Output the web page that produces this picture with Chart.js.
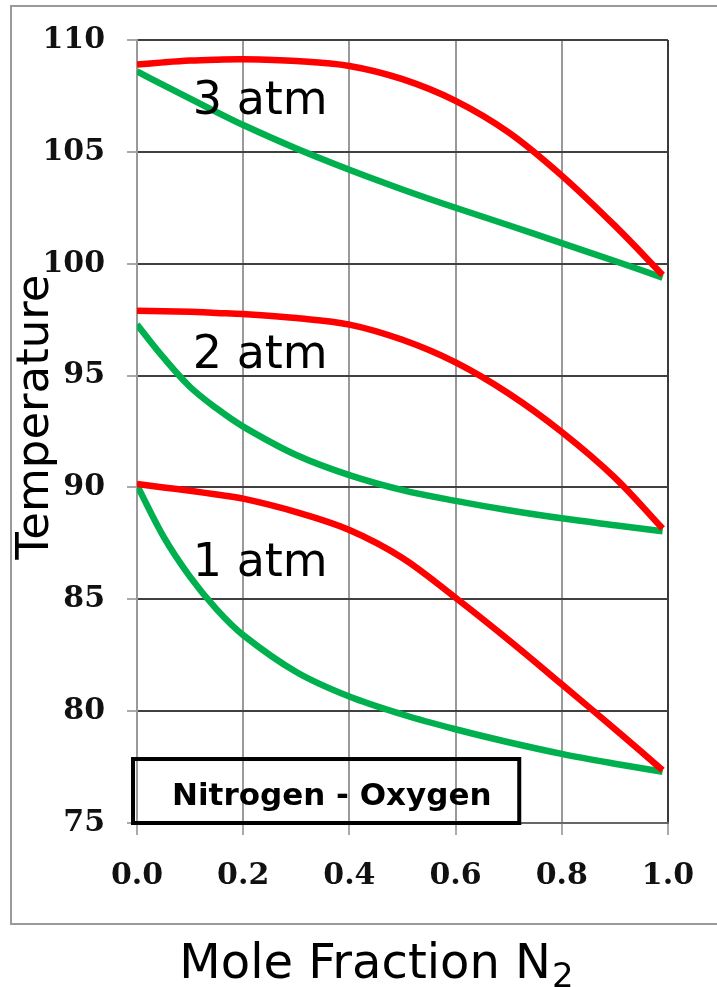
<!DOCTYPE html>
<html>
<head>
<meta charset="utf-8">
<script src="https://cdn.jsdelivr.net/npm/chart.js@4.4.1/dist/chart.umd.min.js"></script>
<style>
html,body{margin:0;padding:0;background:#fff;}
canvas{display:block;}
</style>
</head>
<body>
<canvas id="c" width="717" height="987"></canvas>
<script>
// ---- data ----
const moleFraction = [0, 0.05, 0.1, 0.15, 0.2, 0.3, 0.4, 0.5, 0.6, 0.7, 0.8, 0.9, 0.99];
const vapour3atm = [108.9, 109.0, 109.08, 109.12, 109.14, 109.06, 108.84, 108.25, 107.28, 105.87, 103.94, 101.7, 99.5];
const liquid3atm = [108.6, 107.98, 107.38, 106.78, 106.2, 105.15, 104.2, 103.32, 102.5, 101.72, 100.92, 100.12, 99.38];
const vapour2atm = [97.9, 97.88, 97.85, 97.8, 97.75, 97.57, 97.28, 96.6, 95.59, 94.2, 92.48, 90.44, 88.16];
const liquid2atm = [97.28, 95.8, 94.49, 93.53, 92.72, 91.45, 90.55, 89.88, 89.4, 88.98, 88.62, 88.31, 88.04];
const vapour1atm = [90.15, 90.0, 89.85, 89.68, 89.5, 88.9, 88.1, 86.85, 85.07, 83.18, 81.2, 79.2, 77.36];
const liquid1atm = [90.1, 87.8, 86.0, 84.55, 83.4, 81.75, 80.65, 79.85, 79.19, 78.61, 78.09, 77.65, 77.29];
const xTicks = [0, 0.2, 0.4, 0.6, 0.8, 1.0];
const yTicks = [75, 80, 85, 90, 95, 100, 105, 110];
const pressureLabels = ['3 atm', '2 atm', '1 atm'];
const pressureLabelPos = [[0.105, 106.7], [0.105, 95.33], [0.105, 86.06]];
const systemName = 'Nitrogen - Oxygen';
const xTitle = 'Mole Fraction N';
const xTitleSub = '2';
const yTitle = 'Temperature';

const RED = '#ff0000';
const GREEN = '#00b04f';

function pts(ys){ return moleFraction.map((x,i)=>({x:x, y:ys[i]})); }

const decor = {
  id: 'decor',
  beforeDraw(chart){
    const c = chart.ctx;
    c.save();
    c.fillStyle = '#fff';
    c.fillRect(0,0,chart.width,chart.height);
    c.strokeStyle = '#9a9a9a';
    c.lineWidth = 2;
    c.strokeRect(11, 6, 720, 918);
    c.restore();
  },
  afterDraw(chart){
    const c = chart.ctx;
    const xs = chart.scales.x, ys = chart.scales.y;
    c.save();
    c.fillStyle = '#000';
    // pressure labels
    c.font = '46px "DejaVu Sans"';
    c.textAlign = 'left';
    c.textBaseline = 'alphabetic';
    pressureLabels.forEach((t,i)=>{
      c.fillText(t, xs.getPixelForValue(pressureLabelPos[i][0]), ys.getPixelForValue(pressureLabelPos[i][1]));
    });
    // system box
    const bx0 = xs.getPixelForValue(-0.0075), bx1 = xs.getPixelForValue(0.72);
    const by0 = ys.getPixelForValue(77.86), by1 = ys.getPixelForValue(75.0);
    c.lineWidth = 4;
    c.strokeStyle = '#000';
    c.strokeRect(bx0, by0, bx1-bx0, by1-by0);
    c.font = 'bold 31px "DejaVu Sans"';
    c.fillText(systemName, xs.getPixelForValue(0.066), ys.getPixelForValue(75.8));
    // y title
    c.save();
    c.translate(48, 417);
    c.rotate(-Math.PI/2);
    c.textAlign = 'center';
    c.font = '45px "DejaVu Sans"';
    c.fillText(yTitle, 0, 0);
    c.restore();
    // x title with subscript
    c.font = '48px "DejaVu Sans"';
    const w1 = c.measureText(xTitle).width;
    c.font = '34px "DejaVu Sans"';
    const w2 = c.measureText(xTitleSub).width;
    const start = 376 - (w1+w2)/2;
    c.font = '48px "DejaVu Sans"';
    c.fillText(xTitle, start, 978);
    c.font = '34px "DejaVu Sans"';
    c.fillText(xTitleSub, start + w1 + 1, 987);
    c.restore();
  }
};

const tickFont = {family: '"DejaVu Serif", serif', weight: 'bold', size: 30};

new Chart(document.getElementById('c'), {
  type: 'line',
  data: {
    datasets: [
      {label:'3 atm vapour', data: pts(vapour3atm), borderColor: RED, order: 0},
      {label:'2 atm vapour', data: pts(vapour2atm), borderColor: RED, order: 0},
      {label:'1 atm vapour', data: pts(vapour1atm), borderColor: RED, order: 0},
      {label:'3 atm liquid', data: pts(liquid3atm), borderColor: GREEN, order: 1},
      {label:'2 atm liquid', data: pts(liquid2atm), borderColor: GREEN, order: 1},
      {label:'1 atm liquid', data: pts(liquid1atm), borderColor: GREEN, order: 1}
    ]
  },
  options: {
    responsive: false,
    animation: false,
    devicePixelRatio: 1,
    layout: {padding: {top: 38, right: 48, left: 0, bottom: 0}},
    plugins: {legend: {display: false}, tooltip: {enabled: false}},
    elements: {
      point: {radius: 0, hoverRadius: 0},
      line: {borderWidth: 6.5, tension: 0.35, fill: false, borderCapStyle: 'butt'}
    },
    scales: {
      x: {
        type: 'linear', min: 0, max: 1,
        afterBuildTicks(s){ s.ticks = xTicks.map(v=>({value:v})); },
        afterFit(s){ s.height = 164; },
        ticks: {font: tickFont, color: '#111', padding: 23, maxRotation: 0, autoSkip: false,
                callback: v => Number(v).toFixed(1)},
        grid: {color: c => (c.tick && c.tick.value > 0.99) ? '#3a3a3a' : '#9a9a9a',
               lineWidth: 2, tickLength: 12, tickColor: '#aaaaaa'},
        border: {color: '#666', width: 2}
      },
      y: {
        type: 'linear', min: 75, max: 110,
        afterBuildTicks(s){ s.ticks = yTicks.map(v=>({value:v})); },
        afterFit(s){ s.width = 137; },
        ticks: {font: tickFont, color: '#111', padding: 22, callback: v => String(v)},
        grid: {color: '#404040', lineWidth: 2, tickLength: 10, tickColor: '#aaaaaa'},
        border: {color: '#9a9a9a', width: 2}
      }
    }
  },
  plugins: [decor]
});
</script>
</body>
</html>
